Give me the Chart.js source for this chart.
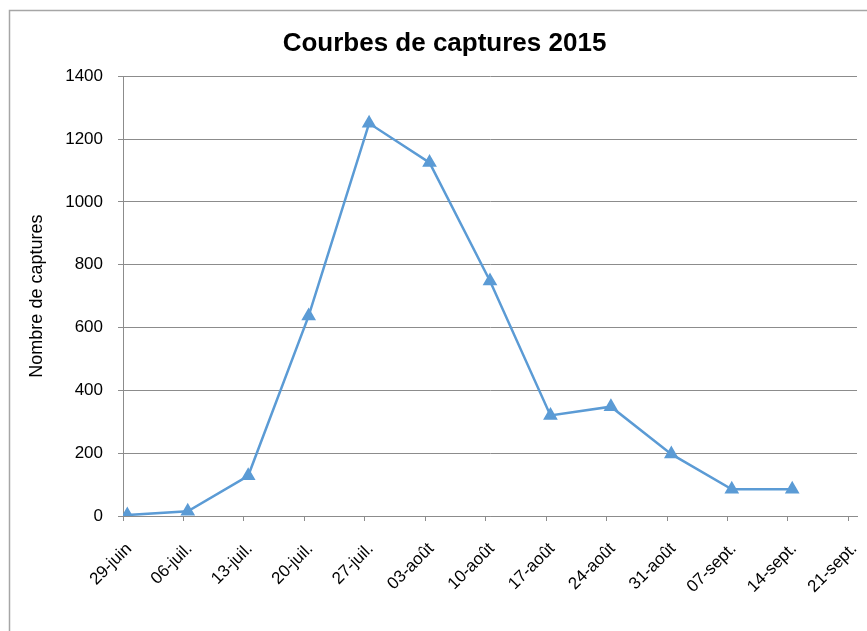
<!DOCTYPE html>
<html>
<head>
<meta charset="utf-8">
<script src="https://cdn.jsdelivr.net/npm/chart.js@4"></script>
<style>
  html, body { margin: 0; padding: 0; background: #fff; }
  #wrap { width: 867px; height: 631px; }
</style>
</head>
<body>
<div id="wrap"><canvas id="lineChart"></canvas></div>
<script>
// days since 29-juin, one tick per week
const tickDays = [0, 7, 14, 21, 28, 35, 42, 49, 56, 63, 70, 77, 84];
const tickLabels = ['29-juin', '06-juil.', '13-juil.', '20-juil.', '27-juil.', '03-août', '10-août',
    '17-août', '24-août', '31-août', '07-sept.', '14-sept.', '21-sept.'];
// sampling days (middle of the day slot) and catches
const sampleDays = [0.5, 7.5, 14.5, 21.5, 28.5, 35.5, 42.5, 49.5, 56.5, 63.5, 70.5, 77.5];
const captures = [3, 15, 128, 637, 1250, 1125, 748, 320, 348, 197, 85, 85];

const frame = {
    id: 'frame',
    beforeDraw(chart) {
        const ctx = chart.ctx;
        ctx.save();
        ctx.fillStyle = '#fff';
        ctx.fillRect(0, 0, chart.width, chart.height);
        ctx.strokeStyle = '#a6a6a6';
        ctx.lineWidth = 1.5;
        ctx.strokeRect(9.5, 10.5, chart.width + 20, chart.height + 20);
        ctx.restore();
    }
};

Chart.defaults.font.family = '"Liberation Sans", Arial, sans-serif';
Chart.defaults.color = '#000';

(async function() {
    window.capturesChart = new Chart(
        document.getElementById('lineChart'),
        {
            type: 'line',
            data: {
                datasets: [
                    {
                        label: 'Captures',
                        data: sampleDays.map((d, i) => ({ x: d, y: captures[i] })),
                        borderColor: '#5B9BD5',
                        backgroundColor: '#5B9BD5',
                        borderWidth: 2.5,
                        pointStyle: 'triangle',
                        pointRadius: 6,
                        pointHoverRadius: 6,
                        tension: 0
                    }
                ]
            },
            options: {
                responsive: true,
                maintainAspectRatio: false,
                animation: false,
                layout: { padding: { left: 32, right: 10, top: 22, bottom: 0 } },
                plugins: {
                    legend: { display: false },
                    tooltip: { enabled: false },
                    title: {
                        display: true,
                        text: 'Courbes de captures 2015',
                        font: { size: 26, weight: 'bold' },
                        color: '#000',
                        padding: { top: 6, bottom: 17 }
                    }
                },
                scales: {
                    x: {
                        type: 'linear',
                        min: 0,
                        max: 85,
                        afterBuildTicks: scale => {
                            scale.ticks = tickDays.map(v => ({ value: v }));
                        },
                        afterFit: scale => {
                            scale.height = 115;
                            scale.paddingLeft = 0;
                            scale.paddingRight = 0;
                        },
                        ticks: {
                            autoSkip: false,
                            minRotation: 45,
                            maxRotation: 45,
                            padding: 18,
                            labelOffset: 6,
                            font: { size: 17 },
                            callback: (value, index) => tickLabels[index]
                        },
                        grid: {
                            drawOnChartArea: false,
                            drawTicks: true,
                            tickLength: 5,
                            color: '#8c8c8c'
                        },
                        border: { color: '#8c8c8c', width: 1 }
                    },
                    y: {
                        min: 0,
                        max: 1400,
                        afterFit: scale => { scale.width = 91; },
                        ticks: {
                            stepSize: 200,
                            padding: 15,
                            font: { size: 17 },
                            callback: value => String(value)
                        },
                        grid: {
                            color: '#8c8c8c',
                            tickLength: 5
                        },
                        border: { color: '#8c8c8c', width: 1 },
                        title: {
                            display: true,
                            text: 'Nombre de captures',
                            font: { size: 18 },
                            padding: { top: -6, bottom: 0 }
                        }
                    }
                }
            },
            plugins: [frame]
        }
    );
})();
</script>
</body>
</html>
